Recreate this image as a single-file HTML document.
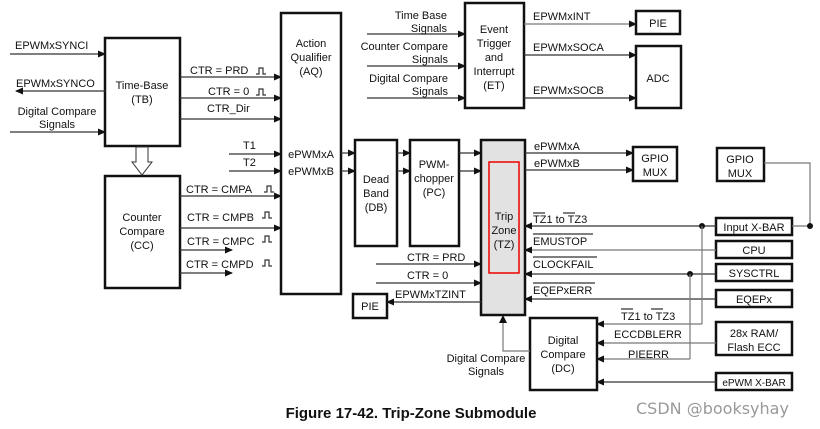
<!DOCTYPE html>
<html><head><meta charset="utf-8"><style>
html,body{margin:0;padding:0;background:#fff}
svg{display:block}
text{font-family:"Liberation Sans",sans-serif;font-size:11px;fill:#111}
.b{fill:#fff;stroke:#111;stroke-width:2.5}
.l{stroke:#333;stroke-width:1.2;fill:none}
.g{stroke:#777;stroke-width:1.2;fill:none}
.m{text-anchor:middle}
</style></head><body>
<svg width="820" height="429" viewBox="0 0 820 429" xmlns="http://www.w3.org/2000/svg">
<defs>
<marker id="a" markerWidth="8" markerHeight="8" refX="7" refY="4" orient="auto" markerUnits="userSpaceOnUse"><path d="M0,0.5 L8,4 L0,7.5z" fill="#111"/></marker>
</defs>
<!-- boxes -->
<rect class="b" x="105" y="38" width="75" height="108"/>
<text class="m" x="142" y="89">Time-Base</text><text class="m" x="142" y="103">(TB)</text>
<rect class="b" x="105" y="176" width="75" height="112"/>
<text class="m" x="142" y="221">Counter</text><text class="m" x="142" y="235">Compare</text><text class="m" x="142" y="249">(CC)</text>
<rect class="b" x="281" y="13" width="60" height="281"/>
<text class="m" x="311" y="47">Action</text><text class="m" x="311" y="61">Qualifier</text><text class="m" x="311" y="75">(AQ)</text>
<text class="m" x="311" y="158">ePWMxA</text><text class="m" x="311" y="175">ePWMxB</text>
<rect class="b" x="355" y="140" width="42" height="106"/>
<text class="m" x="376" y="183">Dead</text><text class="m" x="376" y="197">Band</text><text class="m" x="376" y="211">(DB)</text>
<rect class="b" x="410" y="140" width="49" height="106"/>
<text class="m" x="434" y="168">PWM-</text><text class="m" x="434" y="182">chopper</text><text class="m" x="434" y="196">(PC)</text>
<rect x="481" y="140" width="44" height="175" fill="#e2e2e2" stroke="#111" stroke-width="2.5"/>
<rect x="489" y="162" width="30" height="111" fill="none" stroke="#e00" stroke-width="1.5"/>
<text class="m" x="504" y="220">Trip</text><text class="m" x="504" y="234">Zone</text><text class="m" x="504" y="248">(TZ)</text>
<rect class="b" x="465" y="3" width="59" height="105"/>
<text class="m" x="494" y="33">Event</text><text class="m" x="494" y="47">Trigger</text><text class="m" x="494" y="61">and</text><text class="m" x="494" y="75">Interrupt</text><text class="m" x="494" y="89">(ET)</text>
<rect class="b" x="636" y="11" width="44" height="23"/><text class="m" x="658" y="27">PIE</text>
<rect class="b" x="636" y="46" width="45" height="62"/><text class="m" x="658" y="82">ADC</text>
<rect class="b" x="633" y="147" width="44" height="34"/><text class="m" x="655" y="162">GPIO</text><text class="m" x="655" y="176">MUX</text>
<rect class="b" x="717" y="148" width="47" height="33"/><text class="m" x="740" y="163">GPIO</text><text class="m" x="740" y="177">MUX</text>
<rect class="b" x="716" y="218" width="76" height="17"/><text class="m" x="754" y="231">Input X-BAR</text>
<rect class="b" x="716" y="241" width="76" height="17"/><text class="m" x="754" y="254">CPU</text>
<rect class="b" x="716" y="264" width="76" height="17"/><text class="m" x="754" y="277">SYSCTRL</text>
<rect class="b" x="716" y="290" width="76" height="17"/><text class="m" x="754" y="303">EQEPx</text>
<rect class="b" x="716" y="322" width="76" height="33"/><text class="m" x="754" y="337">28x RAM/</text><text class="m" x="754" y="351">Flash ECC</text>
<rect class="b" x="716" y="373" width="76" height="17"/><text class="m" x="754" y="386" style="font-size:10px">ePWM X-BAR</text>
<rect class="b" x="530" y="318" width="67" height="72"/>
<text class="m" x="563" y="344">Digital</text><text class="m" x="563" y="358">Compare</text><text class="m" x="563" y="372">(DC)</text>
<rect class="b" x="353" y="294" width="34" height="24"/><text class="m" x="370" y="310">PIE</text>
<!-- left signals -->
<line class="l" x1="10" y1="54" x2="105" y2="54" marker-end="url(#a)"/><text x="15" y="49">EPWMxSYNCI</text>
<line class="l" x1="105" y1="91" x2="16" y2="91" marker-end="url(#a)"/><text x="16" y="87">EPWMxSYNCO</text>
<line class="l" x1="10" y1="132" x2="105" y2="132" marker-end="url(#a)"/><text class="m" x="57" y="115">Digital Compare</text><text class="m" x="57" y="128">Signals</text>
<!-- TB outputs -->
<line class="l" x1="180" y1="77" x2="281" y2="77" marker-end="url(#a)"/><text x="190" y="74">CTR = PRD</text>
<line class="l" x1="180" y1="98" x2="281" y2="98" marker-end="url(#a)"/><text x="208" y="95">CTR = 0</text>
<line class="l" x1="180" y1="119" x2="281" y2="119" marker-end="url(#a)"/><text x="207" y="112">CTR_Dir</text>
<path class="l" d="M256,74 h3 v-6 h4 v6 h3 M256,95 h3 v-6 h4 v6 h3"/>
<line class="l" x1="229" y1="154" x2="281" y2="154" marker-end="url(#a)"/><text x="243" y="149">T1</text>
<line class="l" x1="229" y1="171" x2="281" y2="171" marker-end="url(#a)"/><text x="243" y="166">T2</text>
<!-- hollow arrow -->
<path d="M136,147 v15 h-4 l10,13 l10,-13 h-4 v-15z" fill="#fff" stroke="#333" stroke-width="1"/>
<!-- CC outputs -->
<line class="l" x1="180" y1="196" x2="281" y2="196" marker-end="url(#a)"/><text x="186" y="193">CTR = CMPA</text>
<line class="l" x1="180" y1="228" x2="281" y2="228" marker-end="url(#a)"/><text x="187" y="221">CTR = CMPB</text>
<line class="l" x1="180" y1="250" x2="232" y2="250" marker-end="url(#a)"/><text x="187" y="245">CTR = CMPC</text>
<line class="l" x1="180" y1="273" x2="232" y2="273" marker-end="url(#a)"/><text x="186" y="268">CTR = CMPD</text>
<path class="l" d="M264,192 h3 v-6 h4 v6 h3 M262,218 h3 v-6 h4 v6 h3 M262,242 h3 v-6 h4 v6 h3 M262,266 h3 v-6 h4 v6 h3"/>
<!-- chain -->
<line class="l" x1="341" y1="153" x2="355" y2="153" marker-end="url(#a)"/>
<line class="l" x1="341" y1="171" x2="355" y2="171" marker-end="url(#a)"/>
<line class="l" x1="397" y1="153" x2="410" y2="153" marker-end="url(#a)"/>
<line class="l" x1="397" y1="171" x2="410" y2="171" marker-end="url(#a)"/>
<line class="l" x1="459" y1="153" x2="481" y2="153" marker-end="url(#a)"/>
<line class="l" x1="459" y1="171" x2="481" y2="171" marker-end="url(#a)"/>
<!-- TZ left -->
<line class="l" x1="376" y1="264" x2="481" y2="264" marker-end="url(#a)"/><text x="407" y="261">CTR = PRD</text>
<line class="l" x1="376" y1="283" x2="481" y2="283" marker-end="url(#a)"/><text x="407" y="279">CTR = 0</text>
<line class="l" x1="481" y1="302" x2="387" y2="302" marker-end="url(#a)"/><text x="395" y="298">EPWMxTZINT</text>
<!-- TZ outputs -->
<line class="l" x1="525" y1="153" x2="633" y2="153" marker-end="url(#a)"/><text x="534" y="150">ePWMxA</text>
<line class="l" x1="525" y1="170" x2="633" y2="170" marker-end="url(#a)"/><text x="534" y="167">ePWMxB</text>
<!-- right inputs -->
<line class="l" x1="716" y1="226" x2="525" y2="226" marker-end="url(#a)"/><text x="533" y="223">TZ1 to TZ3</text>
<path class="l" d="M533,213h12 M563,213h12"/>
<line class="g" x1="716" y1="250" x2="525" y2="250" marker-end="url(#a)"/><text x="533" y="245">EMUSTOP</text><path class="l" d="M533,234h60"/>
<line class="l" x1="716" y1="274" x2="525" y2="274" marker-end="url(#a)"/><text x="533" y="268">CLOCKFAIL</text><path class="l" d="M533,257h64"/>
<line class="l" x1="716" y1="299" x2="525" y2="299" marker-end="url(#a)"/><text x="533" y="294">EQEPxERR</text><path class="l" d="M533,283h62"/>
<path class="g" d="M764,163 H810 V226 H792"/>
<circle cx="810" cy="226" r="3" fill="#111"/>
<circle cx="702" cy="226" r="3" fill="#111"/>
<circle cx="690" cy="274" r="3" fill="#111"/>
<path class="g" d="M702,226 V324"/><line class="g" x1="702" y1="324" x2="597" y2="324" marker-end="url(#a)"/>
<text x="621" y="320">TZ1 to TZ3</text><path class="l" d="M621,309h12 M651,309h12"/>
<line class="g" x1="716" y1="343" x2="597" y2="343" marker-end="url(#a)"/><text x="614" y="338">ECCDBLERR</text>
<path class="g" d="M690,274 V359"/><line class="g" x1="690" y1="359" x2="597" y2="359" marker-end="url(#a)"/><text x="628" y="358">PIEERR</text>
<line class="l" x1="716" y1="382" x2="597" y2="382" marker-end="url(#a)"/>
<!-- DC -> TZ -->
<path class="g" d="M530,351 H503 V316"/><path d="M499,323 L503,315 L507,323z" fill="#111"/>
<text class="m" x="486" y="362">Digital Compare</text><text class="m" x="486" y="375">Signals</text>
<!-- ET -->
<line class="l" x1="367" y1="34" x2="465" y2="34" marker-end="url(#a)"/><text x="447" y="19" text-anchor="end">Time Base</text><text x="447" y="32" text-anchor="end">Signals</text>
<line class="l" x1="367" y1="66" x2="465" y2="66" marker-end="url(#a)"/><text x="448" y="50" text-anchor="end">Counter Compare</text><text x="448" y="63" text-anchor="end">Signals</text>
<line class="l" x1="367" y1="98" x2="465" y2="98" marker-end="url(#a)"/><text x="448" y="82" text-anchor="end">Digital Compare</text><text x="448" y="95" text-anchor="end">Signals</text>
<line class="g" x1="524" y1="24" x2="636" y2="24" marker-end="url(#a)"/><text x="533" y="20">EPWMxINT</text>
<line class="l" x1="524" y1="55" x2="636" y2="55" marker-end="url(#a)"/><text x="533" y="51">EPWMxSOCA</text>
<line class="l" x1="524" y1="98" x2="636" y2="98" marker-end="url(#a)"/><text x="533" y="94">EPWMxSOCB</text>
<!-- caption -->
<text x="411" y="418" class="m" style="font-size:15px;font-weight:bold">Figure 17-42. Trip-Zone Submodule</text>
<text x="636" y="414" style="font-size:16px;fill:#999;font-family:'DejaVu Sans',sans-serif">CSDN @booksyhay</text>
</svg>
</body></html>
